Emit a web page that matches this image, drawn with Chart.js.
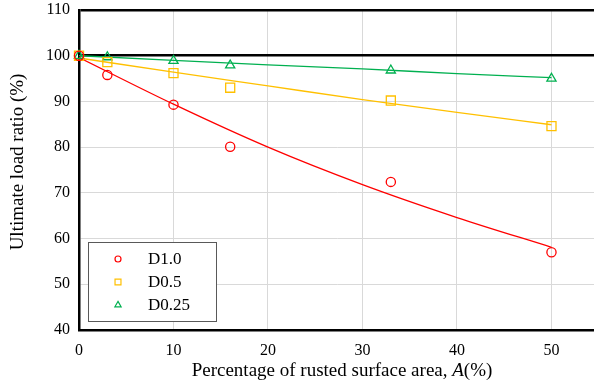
<!DOCTYPE html>
<html lang="en">
<head>
  <meta charset="UTF-8" />
  <title>Ultimate load ratio vs. rusted surface area</title>
  <script src="https://cdn.jsdelivr.net/npm/chart.js"></script>
  <style>
    html, body { margin: 0; padding: 0; background: #fff; }
    canvas { display: block; }
  </style>
</head>
<body>
  <canvas id="loadChart" width="594" height="384"></canvas>
  <script>
    // test results: rusted area A (%) and ultimate load ratio (%)
    const rustArea  = [0, 3, 10, 16, 33, 50];
    const ratioD10  = [100, 95.8, 89.3, 80.1, 72.4, 57.0];
    const ratioD05  = [100, 98.6, 96.2, 93.0, 90.2, 84.6];
    const ratioD025 = [100, 99.7, 98.9, 97.9, 96.8, 95.0];

    // trend lines, read at every 10 %
    const trendArea = [0, 10, 20, 30, 40, 50];
    const trendD10  = [99.6, 89.4, 80.0, 71.8, 64.6, 58.1];
    const trendD05  = [99.5, 96.4, 93.4, 90.4, 87.6, 84.9];
    const trendD025 = [100, 99.0, 98.0, 97.1, 96.1, 95.2];

    const seriesNames = ['D1.0', 'D0.5', 'D0.25'];
    const yTicks = [40, 50, 60, 70, 80, 90, 100, 110];
    const xTicks = [0, 10, 20, 30, 40, 50];

    const RED = '#ff0000', ORANGE = '#ffc000', GREEN = '#00b050';
    const FONT = '"Liberation Serif", "Times New Roman", serif';

    const pts = (xs, ys) => xs.map((x, i) => ({ x: x, y: ys[i] }));

    function markers(label, data, color, style, r) {
      return {
        type: 'scatter', label: label, data: pts(rustArea, data),
        pointStyle: style, pointRadius: r, pointHoverRadius: r,
        borderColor: color, backgroundColor: 'rgba(0,0,0,0)',
        pointBorderWidth: 1.3, clip: false, order: 1
      };
    }
    function trend(data, color) {
      return {
        type: 'line', data: pts(trendArea, data), showLine: true,
        borderColor: color, borderWidth: 1.3, pointRadius: 0,
        cubicInterpolationMode: 'monotone', fill: false, order: 2
      };
    }

    // legend box inside the plot, lower left
    const boxLegend = {
      id: 'boxLegend',
      afterDatasetsDraw(chart) {
        const ctx = chart.ctx;
        const list = chart.data.datasets.filter(d => d.type === 'scatter');
        ctx.save();
        ctx.fillStyle = '#fff';
        ctx.fillRect(88, 242, 128, 79);
        ctx.strokeStyle = '#595959';
        ctx.lineWidth = 1;
        ctx.strokeRect(88.5, 242.5, 128, 79);
        list.forEach((d, i) => {
          const y = 259 + i * 23;
          ctx.strokeStyle = d.borderColor;
          ctx.fillStyle = 'rgba(0,0,0,0)';
          ctx.lineWidth = 1.2;
          const r = d.pointStyle === 'circle' ? 3 : d.pointStyle === 'rect' ? 4.2 : 3.6;
          Chart.helpers.drawPoint(ctx, { pointStyle: d.pointStyle, radius: r, rotation: 0, borderWidth: 1.2 }, 118, y);
          ctx.fillStyle = '#000';
          ctx.font = '17px ' + FONT;
          ctx.textAlign = 'left';
          ctx.textBaseline = 'middle';
          ctx.fillText(d.label, 148, y + 1);
        });
        ctx.restore();
      }
    };

    // axis titles (x title has an italic symbol)
    const axisTitles = {
      id: 'axisTitles',
      afterDraw(chart) {
        const ctx = chart.ctx;
        ctx.save();
        ctx.fillStyle = '#000';
        ctx.textBaseline = 'middle';
        ctx.textAlign = 'center';
        ctx.font = '19px ' + FONT;
        ctx.save();
        ctx.translate(18, 162);
        ctx.rotate(-Math.PI / 2);
        ctx.fillText('Ultimate load ratio (%)', 0, 0);
        ctx.restore();

        const parts = [
          ['Percentage of rusted surface area, ', '19px ' + FONT],
          ['A', 'italic 19px ' + FONT],
          ['(%)', '19px ' + FONT]
        ];
        let total = 0;
        parts.forEach(p => { ctx.font = p[1]; total += ctx.measureText(p[0]).width; });
        let x = 342 - total / 2;
        ctx.textAlign = 'left';
        ctx.textBaseline = 'alphabetic';
        parts.forEach(p => {
          ctx.font = p[1];
          ctx.fillText(p[0], x, 376);
          x += ctx.measureText(p[0]).width;
        });
        ctx.restore();
      }
    };

    new Chart(document.getElementById('loadChart').getContext('2d'), {
      type: 'scatter',
      data: {
        datasets: [
          markers(seriesNames[0], ratioD10, RED, 'circle', 4.6),
          markers(seriesNames[1], ratioD05, ORANGE, 'rect', 6.4),
          markers(seriesNames[2], ratioD025, GREEN, 'triangle', 5.3),
          trend(trendD10, RED),
          trend(trendD05, ORANGE),
          trend(trendD025, GREEN)
        ]
      },
      options: {
        responsive: false,
        animation: false,
        layout: { autoPadding: false, padding: { top: 10, right: 0, left: 0, bottom: 0 } },
        plugins: { legend: { display: false }, tooltip: { enabled: false } },
        scales: {
          x: {
            type: 'linear', min: 0, max: 54.5,
            afterBuildTicks: s => { s.ticks = xTicks.map(v => ({ value: v })); },
            afterFit: s => { s.height = 54; s.paddingLeft = 0; s.paddingRight = 0; },
            grid: { color: '#d9d9d9', lineWidth: 1, drawTicks: false },
            border: { color: '#000', width: 2.5 },
            ticks: { color: '#000', font: { family: FONT, size: 16 }, padding: 11, maxRotation: 0 }
          },
          y: {
            min: 40, max: 110,
            afterBuildTicks: s => { s.ticks = yTicks.map(v => ({ value: v })); },
            afterFit: s => { s.width = 79; s.paddingTop = 0; s.paddingBottom = 0; },
            grid: {
              color: c => c.tick && c.tick.value >= 100 ? '#000' : '#d9d9d9',
              lineWidth: c => c.tick && c.tick.value >= 100 ? 2.5 : 1,
              drawTicks: false
            },
            border: { color: '#000', width: 2.5 },
            ticks: { color: '#000', font: { family: FONT, size: 16 }, padding: 9 }
          }
        }
      },
      plugins: [boxLegend, axisTitles]
    });
  </script>
</body>
</html>
